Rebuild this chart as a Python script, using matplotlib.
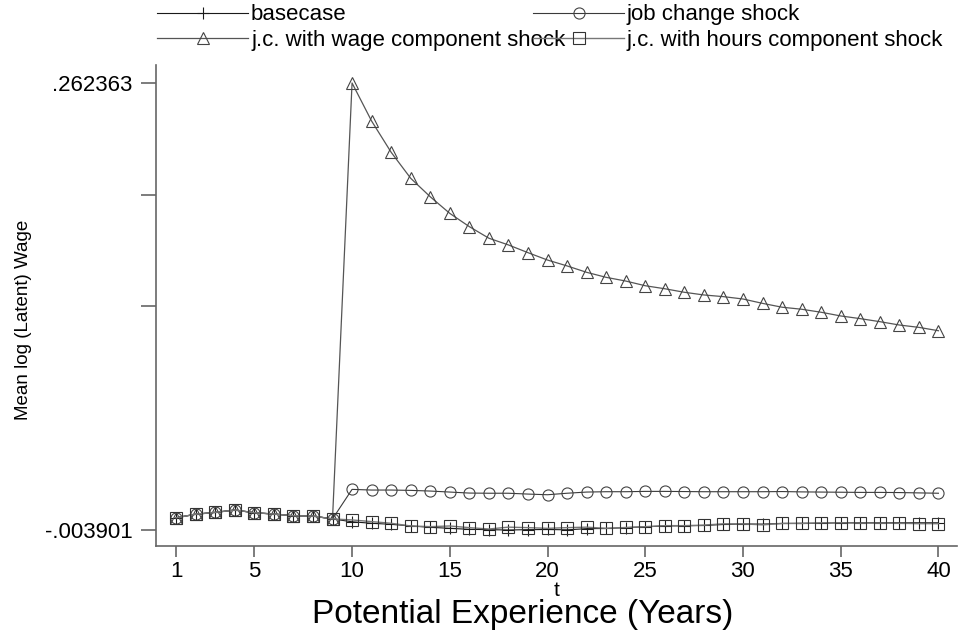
import matplotlib
matplotlib.use("Agg")
from matplotlib import pyplot as plt

plt.rcParams['font.family'] = ['Liberation Sans', 'DejaVu Sans']

# potential experience (years)
t = list(range(1, 41))

# first 9 years are common to all four series
common = [0.0034, 0.0055, 0.0066, 0.0080, 0.0064, 0.0056, 0.0046, 0.0044, 0.0027]

basecase = common + [0.0010, 0.0001, -0.0005, -0.0015, -0.0023, -0.0029, -0.0035, -0.0037,
                     -0.0039, -0.0037, -0.0036, -0.0038, -0.0031, -0.0030, -0.0025, -0.0020,
                     -0.0015, -0.0014, -0.0012, -0.0006, -0.0003, -0.0004, 0.0000, 0.0001,
                     0.0001, 0.0004, 0.0004, 0.0004, 0.0004, 0.0004, 0.0004]
job_change = common + [0.0203, 0.0199, 0.0199, 0.0197, 0.0193, 0.0187, 0.0181, 0.0180,
                       0.0180, 0.0175, 0.0171, 0.0180, 0.0187, 0.0189, 0.0189, 0.0191,
                       0.0191, 0.0190, 0.0189, 0.0189, 0.0189, 0.0189, 0.0190, 0.0188,
                       0.0187, 0.0186, 0.0185, 0.0185, 0.0184, 0.0182, 0.0180]
wage_shock = common + [0.262363, 0.2397, 0.2211, 0.2056, 0.1946, 0.1847, 0.1768, 0.1699,
                       0.1659, 0.1613, 0.1569, 0.1534, 0.1496, 0.1466, 0.1444, 0.1416,
                       0.1398, 0.1377, 0.1361, 0.1351, 0.1337, 0.1311, 0.1288, 0.1276,
                       0.1258, 0.1236, 0.1220, 0.1202, 0.1182, 0.1168, 0.1148]
hours_shock = common + [0.0021, 0.0011, 0.0001, -0.0015, -0.0019, -0.0015, -0.0025, -0.0033,
                        -0.0022, -0.0025, -0.0029, -0.0025, -0.0022, -0.0029, -0.0024, -0.0019,
                        -0.0013, -0.0013, -0.0010, -0.0002, -0.0003, -0.0008, 0.0000, 0.0000,
                        0.0004, 0.0004, 0.0002, 0.0002, 0.0001, -0.0001, -0.0001]

labels = ['basecase', 'job change shock',
          'j.c. with wage component shock', 'j.c. with hours component shock']

y_min = -0.003901
y_max = 0.262363
step = (y_max - y_min) / 4
y_ticks = [y_min, y_max - 2 * step, y_max - step, y_max]
y_ticklabels = ['-.003901', '', '', '.262363']
x_ticks = [1, 5, 10, 15, 20, 25, 30, 35, 40]

fig = plt.figure(figsize=(9.66, 6.34), dpi=100)
ax = fig.add_axes([0.1615, 0.1388, 0.8292, 0.7587])

h1, = ax.plot(t, basecase, color='#1a1a1a', lw=0.8, marker='+', ms=9, mew=0.8)
h2, = ax.plot(t, job_change, color='#3a3a3a', lw=0.8, marker='o', ms=8, mfc='none',
              mec='#444444', mew=0.8)
h3, = ax.plot(t, wage_shock, color='#555555', lw=0.9, marker='^', ms=9, mfc='none',
              mec='#444444', mew=0.8)
h4, = ax.plot(t, hours_shock, color='#777777', lw=1.0, marker='s', ms=9, mfc='none',
              mec='#333333', mew=0.8)

ax.set_xlim(-0.03, 40.95)
ax.set_ylim(-0.01343, 0.27309)
ax.set_xticks(x_ticks)
ax.set_yticks(y_ticks)
ax.set_yticklabels(y_ticklabels)
ax.tick_params(axis='both', labelsize=16, color='#666666', width=1.2)
ax.tick_params(axis='y', length=11, pad=6)
ax.tick_params(axis='x', length=8, pad=3)

for s in ['top', 'right']:
    ax.spines[s].set_visible(False)
for s in ['left', 'bottom']:
    ax.spines[s].set_color('#666666')
    ax.spines[s].set_linewidth(1.2)

ax.set_xlabel('t', fontsize=15, labelpad=-1)
ax.set_ylabel('Mean log (Latent) Wage', fontsize=13.5)
ax.yaxis.set_label_coords(-0.155, 0.47)
fig.text(0.541, 0.03, 'Potential Experience (Years)', fontsize=24, ha='center', va='center')

# legend filled column by column, so order gives rows: base/job, wage/hours
fig.legend([h1, h3, h2, h4], [labels[0], labels[2], labels[1], labels[3]],
           loc='upper left', bbox_to_anchor=(0.149, 1.014), ncol=2,
           frameon=False, fontsize=16, handlelength=4.1, handletextpad=0.12,
           columnspacing=-1.45, labelspacing=0.2, borderaxespad=0.2)

plt.savefig('out.png', dpi=100)
